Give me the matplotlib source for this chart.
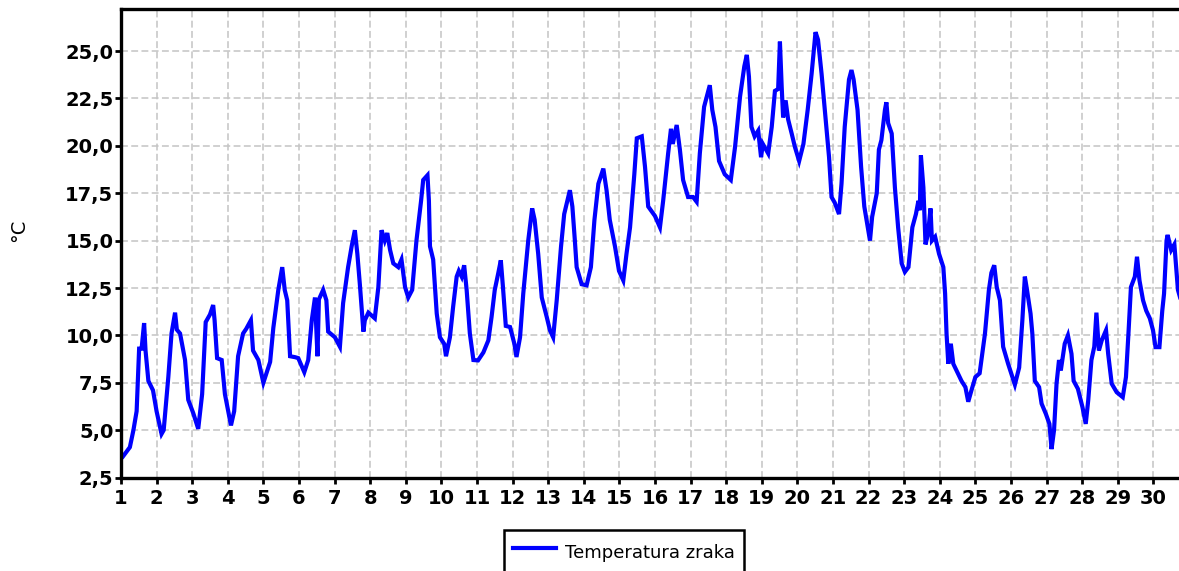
import matplotlib
matplotlib.use("Agg")
import matplotlib.pyplot as plt
from matplotlib.ticker import FuncFormatter

# day of month (fractional) and air temperature
days = [1.0, 1.04, 1.25, 1.35, 1.44, 1.51, 1.58, 1.65, 1.69, 1.77, 1.9, 2.0, 2.14, 2.2, 2.33, 2.42,
        2.52, 2.57, 2.66, 2.8, 2.89, 3.03, 3.17, 3.28, 3.38, 3.5, 3.59, 3.63, 3.7, 3.83, 3.92, 4.09,
        4.18, 4.29, 4.43, 4.52, 4.65, 4.71, 4.86, 5.0, 5.19, 5.28, 5.42, 5.53, 5.6, 5.67, 5.75, 5.89,
        5.98, 6.15, 6.26, 6.36, 6.45, 6.52, 6.56, 6.68, 6.77, 6.82, 7.01, 7.15, 7.24, 7.38, 7.48, 7.57,
        7.64, 7.71, 7.81, 7.85, 7.95, 8.13, 8.23, 8.32, 8.41, 8.48, 8.56, 8.65, 8.79, 8.88, 8.98, 9.07,
        9.18, 9.3, 9.43, 9.49, 9.61, 9.65, 9.68, 9.77, 9.87, 9.96, 10.08, 10.13, 10.24, 10.33, 10.43,
        10.49, 10.57, 10.64, 10.71, 10.8, 10.9, 11.03, 11.18, 11.32, 11.41, 11.5, 11.6, 11.67, 11.73,
        11.81, 11.93, 12.05, 12.11, 12.21, 12.3, 12.44, 12.55, 12.62, 12.72, 12.82, 12.96, 13.05, 13.14,
        13.24, 13.36, 13.45, 13.61, 13.68, 13.75, 13.8, 13.94, 14.08, 14.2, 14.3, 14.41, 14.55, 14.64,
        14.73, 14.88, 14.99, 15.11, 15.2, 15.3, 15.42, 15.49, 15.63, 15.72, 15.81, 16.0, 16.14, 16.23,
        16.37, 16.45, 16.5, 16.61, 16.7, 16.79, 16.93, 17.07, 17.17, 17.26, 17.38, 17.54, 17.61, 17.7,
        17.8, 17.96, 18.13, 18.25, 18.39, 18.51, 18.58, 18.64, 18.71, 18.8, 18.9, 18.98, 19.03, 19.18,
        19.28, 19.37, 19.46, 19.51, 19.56, 19.6, 19.67, 19.74, 19.84, 19.93, 20.05, 20.17, 20.29, 20.4,
        20.51, 20.58, 20.68, 20.79, 20.89, 20.96, 21.05, 21.17, 21.24, 21.33, 21.45, 21.52, 21.58, 21.69,
        21.79, 21.88, 21.99, 22.04, 22.1, 22.23, 22.29, 22.36, 22.46, 22.5, 22.55, 22.65, 22.74, 22.83,
        22.93, 23.02, 23.12, 23.23, 23.33, 23.4, 23.44, 23.47, 23.54, 23.6, 23.67, 23.74, 23.78, 23.87,
        23.98, 24.1, 24.15, 24.19, 24.24, 24.31, 24.38, 24.47, 24.61, 24.72, 24.8, 24.89, 25.0, 25.12,
        25.27, 25.38, 25.45, 25.53, 25.6, 25.69, 25.78, 25.92, 26.11, 26.23, 26.32, 26.39, 26.45, 26.55,
        26.6, 26.67, 26.79, 26.86, 26.98, 27.08, 27.14, 27.21, 27.28, 27.35, 27.4, 27.51, 27.6, 27.7,
        27.76, 27.88, 28.01, 28.1, 28.17, 28.26, 28.34, 28.4, 28.47, 28.55, 28.67, 28.73, 28.83, 28.97,
        29.14, 29.23, 29.3, 29.37, 29.48, 29.54, 29.61, 29.71, 29.8, 29.9, 29.99, 30.06, 30.17, 30.25,
        30.3, 30.37, 30.4, 30.5, 30.59, 30.69, 30.75]
temps = [3.5, 3.57, 4.1, 5.0, 6.0, 9.3, 9.3, 10.65, 9.2, 7.6, 7.1, 6.0, 4.8, 5.0, 7.8, 10.1,
         11.2, 10.3, 10.1, 8.7, 6.6, 5.9, 5.07, 6.9, 10.7, 11.1, 11.6, 10.8, 8.8, 8.7, 6.9, 5.25,
         6.0, 8.9, 10.1, 10.35, 10.8, 9.2, 8.7, 7.5, 8.6, 10.4, 12.4, 13.6, 12.4, 11.85, 8.9, 8.85,
         8.8, 8.06, 8.7, 10.8, 12.0, 8.9, 11.9, 12.4, 11.85, 10.2, 9.9, 9.4, 11.7, 13.6, 14.7, 15.55,
         14.3, 12.7, 10.2, 10.8, 11.2, 10.9, 12.55, 15.55, 15.0, 15.4, 14.5, 13.8, 13.6, 14.0, 12.55, 12.0,
         12.4, 15.0, 17.1, 18.2, 18.45, 17.1, 14.7, 14.0, 11.15, 9.9, 9.55, 8.9, 9.9, 11.5, 13.1,
         13.4, 13.1, 13.7, 12.4, 10.1, 8.7, 8.68, 9.1, 9.74, 10.97, 12.4, 13.3, 13.96, 12.55,
         10.5, 10.44, 9.56, 8.86, 9.9, 12.2, 15.0, 16.7, 16.1, 14.3, 12.0, 10.97, 10.27, 9.9,
         11.85, 14.66, 16.4, 17.66, 16.8, 15.0, 13.6, 12.7, 12.64, 13.6, 16.1, 18.0, 18.8, 17.66,
         16.1, 14.66, 13.4, 12.9, 14.3, 15.7, 18.5, 20.4, 20.5, 18.9, 16.8, 16.3, 15.7, 17.1,
         19.6, 20.9, 20.1, 21.1, 19.8, 18.2, 17.3, 17.3, 17.05, 19.6, 22.06, 23.2, 21.9, 21.0,
         19.2, 18.5, 18.2, 19.95, 22.6, 24.2, 24.8, 23.65, 21.0, 20.5, 20.8, 19.4, 20.1, 19.6,
         21.0, 22.9, 23.0, 25.5, 23.1, 21.5, 22.4, 21.4, 20.65, 19.95, 19.2, 20.1, 21.9, 23.8,
         26.0, 25.6, 23.8, 21.5, 19.4, 17.3, 17.0, 16.4, 18.0, 21.0, 23.5, 24.0, 23.5, 21.9,
         18.9, 16.8, 15.55, 15.0, 16.25, 17.5, 19.8, 20.3, 21.9, 22.3, 21.2, 20.65, 17.8, 15.7,
         13.8, 13.35, 13.6, 15.7, 16.4, 17.1, 16.6, 19.5, 17.8, 14.8, 15.35, 16.7, 15.0, 15.2,
         14.3, 13.6, 12.2, 10.1, 8.5, 9.56, 8.5, 8.15, 7.6, 7.27, 6.5, 7.1, 7.8, 8.0,
         10.1, 12.4, 13.3, 13.7, 12.55, 11.85, 9.4, 8.5, 7.4, 8.3, 10.8, 13.1, 12.4, 11.15,
         10.1, 7.6, 7.27, 6.4, 5.86, 5.33, 4.0, 5.0, 7.45, 8.7, 8.15, 9.56, 10.0, 9.03,
         7.6, 7.18, 6.2, 5.33, 6.57, 8.7, 9.4, 11.2, 9.2, 9.74, 10.27, 9.03, 7.45, 7.0,
         6.74, 7.8, 10.1, 12.55, 13.1, 14.15, 12.9, 11.85, 11.3, 10.9, 10.27, 9.38, 9.38, 11.3,
         12.2, 15.0, 15.3, 14.5, 14.8, 12.4, 12.0]

day_ticks = list(range(1, 31))
temp_ticks = [2.5, 5.0, 7.5, 10.0, 12.5, 15.0, 17.5, 20.0, 22.5, 25.0]

fig = plt.figure(figsize=(11.79, 5.71), dpi=100)
ax = fig.add_axes([0.1026, 0.1637, 0.8974, 0.8205])

ax.plot(days, temps, color="#0000ff", lw=3.0, solid_joinstyle="miter", label="Temperatura zraka")

ax.set_xlim(1, 30.72)
ax.set_ylim(2.5, 27.22)
ax.set_xticks(day_ticks)
ax.set_yticks(temp_ticks)
ax.yaxis.set_major_formatter(FuncFormatter(lambda v, p: f"{v:.1f}".replace(".", ",")))

ax.grid(True, color="#c4c4c4", linestyle=(0, (4.5, 2.2)), linewidth=1.1)
ax.set_axisbelow(True)

for s in ["left", "bottom", "top"]:
    ax.spines[s].set_linewidth(2.4)
    ax.spines[s].set_color("black")
ax.spines["right"].set_visible(False)

ax.tick_params(axis="both", length=4, width=2, color="black", labelsize=14)
ax.tick_params(axis="y", pad=1.5)
ax.tick_params(axis="x", pad=4)
for lbl in ax.get_xticklabels() + ax.get_yticklabels():
    lbl.set_fontweight("bold")

fig.text(0.016, 0.597, "°C", rotation=90, fontsize=14, ha="center", va="center")

# legend box runs off the bottom edge, as in the original
leg = fig.legend(loc="upper center", bbox_to_anchor=(0.529, 0.072), fontsize=13,
                 fancybox=False, edgecolor="black", handlelength=2.4, handleheight=1.9,
                 borderpad=0.5, borderaxespad=0, handletextpad=0.5, framealpha=1)
leg.get_frame().set_linewidth(1.8)

plt.savefig("out.png", dpi=100)
